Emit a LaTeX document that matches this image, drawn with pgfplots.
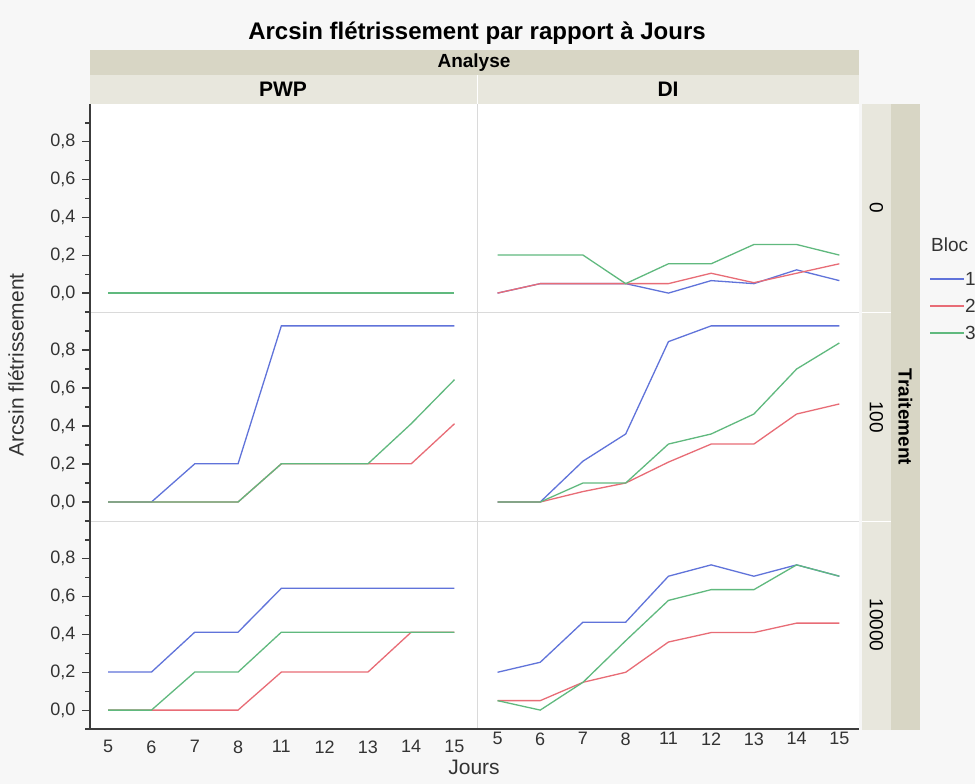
\documentclass[border=0pt]{standalone}
\usepackage{pgfplots}
\pgfplotsset{compat=1.18}
\usepackage{pgfplotstable}
\usepackage{fontspec}
\setmainfont{Liberation Sans}

\definecolor{bgc}{HTML}{F7F7F7}
\definecolor{stripdark}{HTML}{D8D6C5}
\definecolor{striplight}{HTML}{E8E7DD}
\definecolor{sepc}{HTML}{DADADA}
\definecolor{axc}{HTML}{3C3C3C}
\definecolor{txtc}{HTML}{333333}
\definecolor{c1}{RGB}{96,115,218}
\definecolor{c2}{RGB}{232,108,118}
\definecolor{c3}{RGB}{96,185,126}

% x = position of the day (5 6 7 8 11 12 13 14 15), b1..b3 = Bloc 1..3
\pgfplotstableread{
x b1 b2 b3
0 0 0 0
1 0 0 0
2 0 0 0
3 0 0 0
4 0 0 0
5 0 0 0
6 0 0 0
7 0 0 0
8 0 0 0
}\pwpzero
\pgfplotstableread{
x b1 b2 b3
0 0.000 0.000 0.201
1 0.050 0.050 0.201
2 0.050 0.050 0.201
3 0.050 0.050 0.050
4 0.000 0.050 0.155
5 0.066 0.105 0.155
6 0.050 0.055 0.257
7 0.123 0.105 0.257
8 0.066 0.155 0.201
}\dizero
\pgfplotstableread{
x b1 b2 b3
0 0.000 0.000 0.000
1 0.000 0.000 0.000
2 0.201 0.000 0.000
3 0.201 0.000 0.000
4 0.927 0.201 0.201
5 0.927 0.201 0.201
6 0.927 0.201 0.201
7 0.927 0.201 0.412
8 0.927 0.412 0.644
}\pwpcent
\pgfplotstableread{
x b1 b2 b3
0 0.000 0.000 0.000
1 0.000 0.000 0.000
2 0.215 0.055 0.100
3 0.358 0.100 0.100
4 0.844 0.210 0.305
5 0.927 0.305 0.358
6 0.927 0.305 0.463
7 0.927 0.463 0.700
8 0.927 0.516 0.837
}\dicent
\pgfplotstableread{
x b1 b2 b3
0 0.201 0.000 0.000
1 0.201 0.000 0.000
2 0.412 0.000 0.201
3 0.412 0.000 0.201
4 0.644 0.201 0.412
5 0.644 0.201 0.412
6 0.644 0.201 0.412
7 0.644 0.412 0.412
8 0.644 0.412 0.412
}\pwpdix
\pgfplotstableread{
x b1 b2 b3
0 0.200 0.050 0.050
1 0.253 0.050 0.000
2 0.465 0.147 0.147
3 0.465 0.200 0.367
4 0.708 0.360 0.580
5 0.768 0.410 0.637
6 0.708 0.410 0.637
7 0.768 0.460 0.768
8 0.708 0.460 0.708
}\didix

\newcommand{\tickfont}{\fontsize{18bp}{20bp}\selectfont}
\newcommand{\labfont}{\fontsize{21bp}{24bp}\selectfont}

\pgfplotsset{
  panel/.style={scale only axis, ymin=-0.1, ymax=1.0,
    axis background/.style={fill=white},
    axis x line*=bottom, axis y line*=left,
    x axis line style={draw=none}, y axis line style={draw=none},
    xtick=\empty, ytick=\empty,
    every axis plot/.append style={line width=1.3bp},
    tick label style={font=\tickfont, text=txtc},
    clip=false},
  leftcol/.style={at={(90bp,#1)}, anchor=south west, width=387bp,
    xmin=-0.42, xmax=8.52},
  rightcol/.style={at={(477bp,#1)}, anchor=south west, width=382bp,
    xmin=-0.48, xmax=8.46},
  yleft/.style={y axis line style={draw=axc, line width=1.8bp, -},
    ytick={0,0.2,0.4,0.6,0.8},
    minor ytick={-0.1,0.1,0.3,0.5,0.7,0.9},
    tick align=outside, major tick length=8bp, minor tick length=5bp,
    ytick style={axc, line width=1.2bp},
    yticklabel style={xshift=-3bp, /pgf/number format/.cd, fixed, fixed zerofill,
      precision=1, use comma, assume math mode=true}},
  xbottom/.style={x axis line style={draw=axc, line width=1.8bp, -},
    xtick={0,...,8}, xticklabels={5,6,7,8,11,12,13,14,15},
    xtick style={draw=none}},
}

\begin{document}
\begin{tikzpicture}
\path[fill=bgc] (0bp,0bp) rectangle (975bp,-784bp);
\useasboundingbox (0bp,0bp) rectangle (975bp,-784bp);

% row 0
\begin{axis}[panel, leftcol=-312bp, height=208bp, yleft]
\addplot[c1] table[x=x,y=b1]{\pwpzero};
\addplot[c2] table[x=x,y=b2]{\pwpzero};
\addplot[c3] table[x=x,y=b3]{\pwpzero};
\end{axis}
\begin{axis}[panel, rightcol=-312bp, height=208bp]
\addplot[c1] table[x=x,y=b1]{\dizero};
\addplot[c2] table[x=x,y=b2]{\dizero};
\addplot[c3] table[x=x,y=b3]{\dizero};
\end{axis}
% row 100
\begin{axis}[panel, leftcol=-521bp, height=209bp, yleft]
\addplot[c1] table[x=x,y=b1]{\pwpcent};
\addplot[c2] table[x=x,y=b2]{\pwpcent};
\addplot[c3] table[x=x,y=b3]{\pwpcent};
\end{axis}
\begin{axis}[panel, rightcol=-521bp, height=209bp]
\addplot[c1] table[x=x,y=b1]{\dicent};
\addplot[c2] table[x=x,y=b2]{\dicent};
\addplot[c3] table[x=x,y=b3]{\dicent};
\end{axis}
% row 10000
\begin{axis}[panel, leftcol=-729bp, height=208bp, yleft, xbottom]
\addplot[c1] table[x=x,y=b1]{\pwpdix};
\addplot[c2] table[x=x,y=b2]{\pwpdix};
\addplot[c3] table[x=x,y=b3]{\pwpdix};
\end{axis}
\begin{axis}[panel, rightcol=-729bp, height=208bp, xbottom]
\addplot[c1] table[x=x,y=b1]{\didix};
\addplot[c2] table[x=x,y=b2]{\didix};
\addplot[c3] table[x=x,y=b3]{\didix};
\end{axis}

% panel separators
\draw[sepc, line width=1bp] (91bp,-312bp) -- (859bp,-312bp);
\draw[sepc, line width=1bp] (91bp,-521bp) -- (859bp,-521bp);
\draw[sepc, line width=1bp] (477bp,-104bp) -- (477bp,-728bp);

% column strips
\fill[stripdark] (90bp,-50bp) rectangle (859bp,-75bp);
\fill[striplight] (90bp,-75bp) rectangle (859bp,-104bp);
\draw[white, line width=1bp] (477bp,-75bp) -- (477bp,-104bp);
\node[font=\fontsize{19bp}{21bp}\selectfont\bfseries, text=black] at (474bp,-62.5bp) {Analyse};
\node[font=\fontsize{21bp}{23bp}\selectfont\bfseries, text=black] at (283bp,-89.5bp) {PWP};
\node[font=\fontsize{21bp}{23bp}\selectfont\bfseries, text=black] at (668bp,-89.5bp) {DI};

% row strips
\fill[striplight] (862bp,-104bp) rectangle (891bp,-730bp);
\fill[stripdark] (891bp,-104bp) rectangle (920bp,-730bp);
\draw[white, line width=1bp] (862bp,-312bp) -- (891bp,-312bp);
\draw[white, line width=1bp] (862bp,-521bp) -- (891bp,-521bp);
\node[font=\fontsize{19bp}{21bp}\selectfont, text=black, rotate=-90] at (876.5bp,-208bp) {0};
\node[font=\fontsize{19bp}{21bp}\selectfont, text=black, rotate=-90] at (876.5bp,-417bp) {100};
\node[font=\fontsize{19bp}{21bp}\selectfont, text=black, rotate=-90] at (876.5bp,-625bp) {10000};
\node[font=\fontsize{19bp}{21bp}\selectfont\bfseries, text=black, rotate=-90] at (905.5bp,-417bp) {Traitement};

% titles
\node[font=\fontsize{24bp}{28bp}\selectfont\bfseries, text=black] at (477bp,-33bp) {Arcsin flétrissement par rapport à Jours};
\node[font=\labfont, text=txtc, rotate=90] at (16bp,-365bp) {Arcsin flétrissement};
\node[font=\labfont, text=txtc] at (474bp,-767bp) {Jours};

% legend
\node[font=\fontsize{19bp}{21bp}\selectfont, text=txtc, anchor=west, inner xsep=0pt] at (931bp,-245bp) {Bloc};
\draw[c1, line width=1.3bp] (930bp,-279bp) -- (964bp,-279bp);
\draw[c2, line width=1.3bp] (930bp,-306bp) -- (964bp,-306bp);
\draw[c3, line width=1.3bp] (930bp,-333bp) -- (964bp,-333bp);
\node[font=\fontsize{19bp}{21bp}\selectfont, text=txtc, anchor=west, inner xsep=1bp] at (964bp,-279bp) {1};
\node[font=\fontsize{19bp}{21bp}\selectfont, text=txtc, anchor=west, inner xsep=1bp] at (964bp,-306bp) {2};
\node[font=\fontsize{19bp}{21bp}\selectfont, text=txtc, anchor=west, inner xsep=1bp] at (964bp,-333bp) {3};
\end{tikzpicture}
\end{document}
